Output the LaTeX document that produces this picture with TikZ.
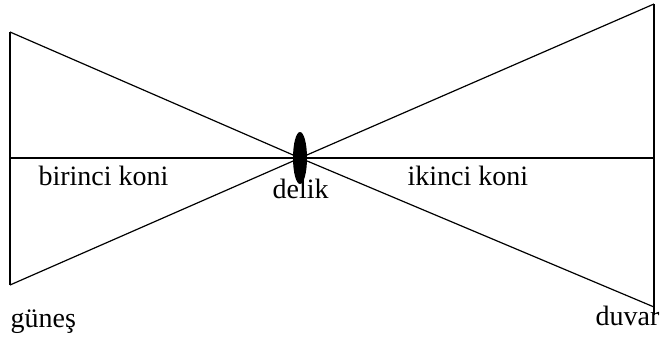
\documentclass[tikz,border=0pt]{standalone}
\usepackage{fontspec}
\setmainfont{Liberation Serif}
\begin{document}
\begin{tikzpicture}[x=1pt,y=-1pt,line width=1.2pt,
  lbl/.style={inner sep=0pt,anchor=base west,font=\fontsize{28}{31}\selectfont}]
  \useasboundingbox (0,0) rectangle (664,343);
%% corners
  \coordinate (sunTop) at (10,32);  \coordinate (sunBot) at (10,285);
  \coordinate (wallTop) at (654,4); \coordinate (wallBot) at (654,307);
  \coordinate (hole) at (300,158);

%% vert lines
  \draw[] (sunTop) -- (sunBot);
  \draw[] (wallTop) -- (654,315);

%% flat line
  \draw[] (10,158) -- (654,158);

%% cones
  \draw[] (sunTop) -- (hole) -- (wallBot);
  \draw[] (sunBot) -- (hole) -- (wallTop);

%% hole
  \fill[black] (hole) ellipse (7 and 26);

%% nodes
  \node[lbl] (birinci) at (38,185) {birinci koni};
  \node[lbl] (delik) at (272,198) {delik};
  \node[lbl] (ikinci) at (407,185) {ikinci koni};
  \node[lbl] (gunes) at (10,327) {güneş};
  \node[lbl] (duvar) at (595,325) {duvar};
\end{tikzpicture}
\end{document}
